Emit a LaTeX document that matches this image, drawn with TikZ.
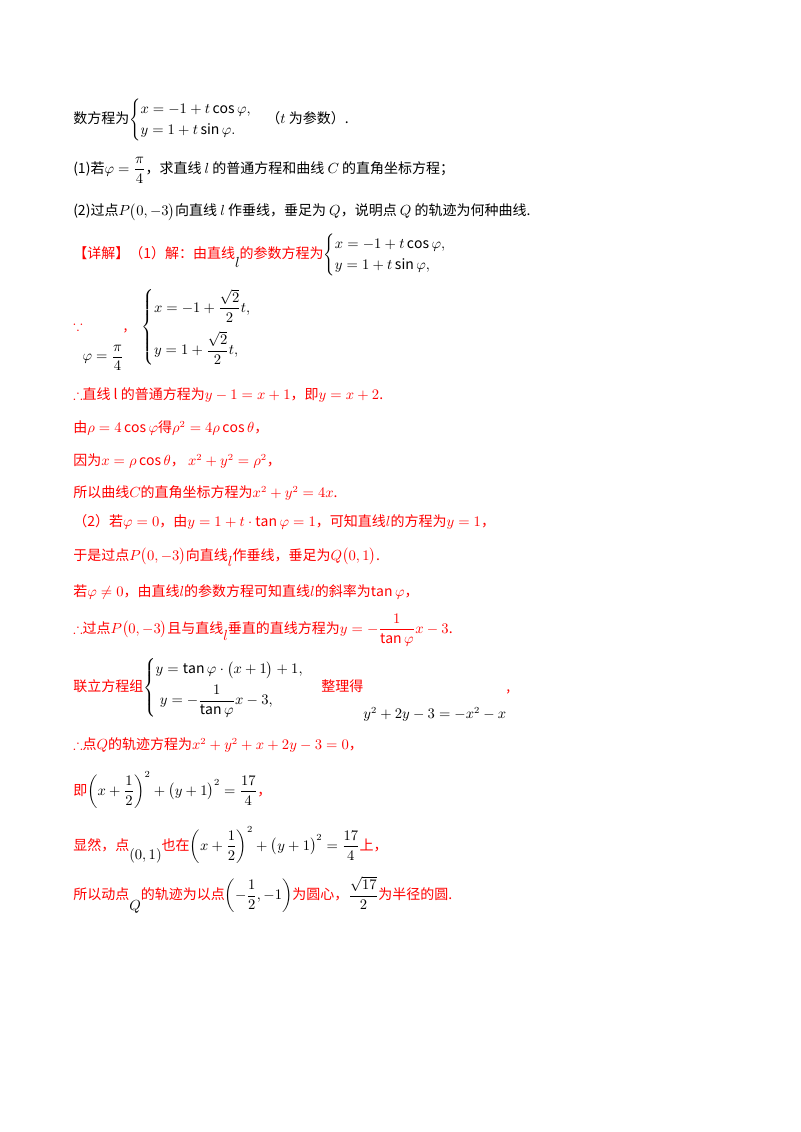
\documentclass[tikz,border=0pt]{standalone}
\usepackage{amsmath,amssymb}
\usepackage{fontspec}
\setmainfont{Noto Sans CJK SC}
\newcommand{\mr}[1]{\textcolor{red}{#1}}
\begin{document}
\begin{tikzpicture}[x=0.75pt,y=-0.75pt,
  ln/.style={anchor=west,inner sep=0pt,font=\fontsize{10.5}{13}\selectfont}]
\useasboundingbox (0,0) rectangle (800,1132);
\fill[white] (0,0) rectangle (800,1132);
\node[ln] (l1) at (73,120) {数方程为$\begin{cases} x=-1+t\cos\varphi,\\ y=1+t\sin\varphi.\end{cases}$（$t$ 为参数）.};
\node[ln] (l2) at (73,170) {(1)若$\varphi=\dfrac{\pi}{4}$，求直线 $l$ 的普通方程和曲线 $C$ 的直角坐标方程；};
\node[ln] (l3) at (73,212) {(2)过点$P\bigl(0,-3\bigr)$向直线 $l$ 作垂线，垂足为 $Q$，说明点 $Q$ 的轨迹为何种曲线.};
\node[ln] (l4) at (73,255) {\mr{【详解】（1）解：由直线}\raisebox{-1.2ex}{$l$}\mr{的参数方程为}$\begin{cases} x=-1+t\cos\varphi,\\ y=1+t\sin\varphi,\end{cases}$};
\node[ln] (l5) at (73,330) {\mr{$\boldsymbol{\because}$}\raisebox{-4ex}{$\varphi=\dfrac{\pi}{4}$}\mr{,}\quad$\begin{cases} x=-1+\dfrac{\sqrt2}{2}t,\\[10pt] y=1+\dfrac{\sqrt2}{2}t,\end{cases}$};
\node[ln] (l6) at (73,395) {\mr{$\boldsymbol{\therefore}$直线 l 的普通方程为$y-1=x+1$，即$y=x+2$.}};
\node[ln] (l7) at (73,428) {\mr{由$\rho=4\cos\varphi$得$\rho^2=4\rho\cos\theta$，}};
\node[ln] (l8) at (73,461) {\mr{因为$x=\rho\cos\theta$，\ $x^2+y^2=\rho^2$，}};
\node[ln] (l9) at (73,493) {\mr{所以曲线$C$的直角坐标方程为$x^2+y^2=4x$.}};
\node[ln] (l10) at (73,522) {\mr{（2）若$\varphi=0$，由$y=1+t\cdot\tan\varphi=1$，可知直线$l$的方程为$y=1$，}};
\node[ln] (l11) at (73,557) {\mr{于是过点$P\bigl(0,-3\bigr)$向直线\raisebox{-0.8ex}{$l$}作垂线，垂足为$Q\bigl(0,1\bigr)$.}};
\node[ln] (l12) at (73,592) {\mr{若$\varphi\neq0$，由直线$l$的参数方程可知直线$l$的斜率为$\tan\varphi$，}};
\node[ln] (l13) at (73,630) {\mr{$\boldsymbol{\therefore}$过点$P\bigl(0,-3\bigr)$且与直线\raisebox{-1ex}{$l$}垂直的直线方程为$y=-\dfrac{1}{\tan\varphi}x-3$.}};
\node[ln] (l14) at (73,690) {\mr{联立方程组}$\begin{cases} y=\tan\varphi\cdot\bigl(x+1\bigr)+1,\\[4pt] \;y=-\dfrac{1}{\tan\varphi}x-3,\end{cases}$\ \mr{整理得}\raisebox{-3.5ex}{$y^2+2y-3=-x^2-x$}\mr{,}};
\node[ln] (l15) at (73,745) {\mr{$\boldsymbol{\therefore}$点$Q$的轨迹方程为$x^2+y^2+x+2y-3=0$，}};
\node[ln] (l16) at (73,790) {\mr{即}$\left(x+\dfrac12\right)^2+\bigl(y+1\bigr)^2=\dfrac{17}{4}$\mr{，}};
\node[ln] (l17) at (73,845) {\mr{显然，点}\raisebox{-1.2ex}{$(0,1)$}\mr{也在}$\left(x+\dfrac12\right)^2+\bigl(y+1\bigr)^2=\dfrac{17}{4}$\mr{上，}};
\node[ln] (l18) at (73,895) {\mr{所以动点}\raisebox{-1.4ex}{$Q$}\mr{的轨迹为以点}$\left(-\dfrac12,-1\right)$\mr{为圆心，}$\dfrac{\sqrt{17}}{2}$\mr{为半径的圆.}};
\end{tikzpicture}
\end{document}
